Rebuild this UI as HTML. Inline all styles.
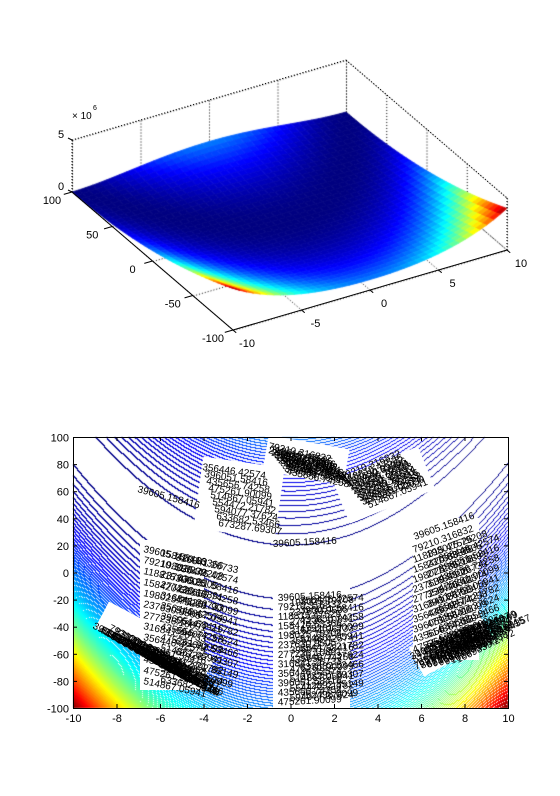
<!DOCTYPE html>
<html><head><meta charset="utf-8">
<style>
html,body{margin:0;padding:0;background:#fff;}
#page{position:relative;width:560px;height:796px;overflow:hidden;background:#fff;font-family:"Liberation Sans",sans-serif;}
canvas,svg{position:absolute;left:0;top:0;}
</style></head>
<body>
<div id="page">
<canvas id="surf" width="560" height="400"></canvas>
<canvas id="cont" width="560" height="796"></canvas>
<svg id="ov" width="560" height="796"></svg>
</div>
<script>
// ---- data ----
const xTicks = [-10, -5, 0, 5, 10];
const yTicks = [-100, -50, 0, 50, 100];
const zTicks = [0, 5];
const cxTicks = [-10, -8, -6, -4, -2, 0, 2, 4, 6, 8, 10];
const cyTicks = [-100, -80, -60, -40, -20, 0, 20, 40, 60, 80, 100];
const rosenA = [100];   // coefficient of (y - x^2)^2
const rosenB = [1];     // coefficient of (1 - x)^2
const levelStep = [39605.158416];
const levelCount = [101];
const zMax = [4000121];

function f(x,y){ return rosenA[0]*Math.pow(y-x*x,2)+rosenB[0]*Math.pow(1-x,2); }
function clamp(v){return Math.max(0,Math.min(1,v));}
function jet(t){
  const r=clamp(1.5-Math.abs(4*t-3)), g=clamp(1.5-Math.abs(4*t-2)), b=clamp(1.5-Math.abs(4*t-1));
  return [Math.round(r*255),Math.round(g*255),Math.round(b*255)];
}
const NS='http://www.w3.org/2000/svg';
const ov=document.getElementById('ov');
function el(tag,attrs,parent){const e=document.createElementNS(NS,tag);for(const k in attrs)e.setAttribute(k,attrs[k]);(parent||ov).appendChild(e);return e;}

// ---- 3D projection ----
function P(x,y,z){
  const u=(x+10)/20, v=(y+100)/200, w=z/5e6;
  return [233+u*274-v*161, 330-u*80-v*138-w*52];
}
function line3(a,b,dotted,name){
  const p=P(...a), q=P(...b);
  const l=el('line',{x1:p[0],y1:p[1],x2:q[0],y2:q[1],stroke:'#000','stroke-width':1,'stroke-dasharray':dotted?'1,2':'none'});
  
  
  return l;
}
const sc=document.getElementById('surf').getContext('2d');
function cline(a,b){const p=P(...a),q=P(...b);sc.beginPath();sc.moveTo(p[0]+.5,p[1]+.5);sc.lineTo(q[0]+.5,q[1]+.5);sc.stroke();}
sc.setLineDash([1,2]);sc.strokeStyle='#000';sc.lineWidth=1;
xTicks.forEach(x=>{cline([x,-100,0],[x,100,0]);cline([x,100,0],[x,100,5e6]);});
yTicks.forEach(y=>{cline([-10,y,0],[10,y,0]);cline([10,y,0],[10,y,5e6]);});
zTicks.forEach(z=>{cline([-10,100,z*1e6],[10,100,z*1e6]);cline([10,100,z*1e6],[10,-100,z*1e6]);});
cline([-10,100,0],[-10,100,5e6]);
sc.setLineDash([]);

const NX=40, NY=40, quads=[];
for(let i=0;i<NX;i++)for(let j=0;j<NY;j++){
  const x0=-10+20*i/NX,x1=-10+20*(i+1)/NX,y0=-100+200*j/NY,y1=-100+200*(j+1)/NY;
  const zc=(f(x0,y0)+f(x1,y0)+f(x0,y1)+f(x1,y1))/4;
  quads.push({pts:[P(x0,y0,f(x0,y0)),P(x1,y0,f(x1,y0)),P(x1,y1,f(x1,y1)),P(x0,y1,f(x0,y1))],z:zc,d:(x0+10)/20+(y0+100)/200});
}
quads.sort((a,b)=>b.d-a.d);
quads.forEach(q=>{
  const c=jet(q.z/zMax[0]);const col='rgb('+c+')';
  sc.fillStyle=col;sc.strokeStyle=col;sc.lineWidth=0.8;
  sc.beginPath();q.pts.forEach((p,k)=>k?sc.lineTo(p[0],p[1]):sc.moveTo(p[0],p[1]));sc.closePath();sc.fill();sc.stroke();
});

line3([-10,-100,0],[10,-100,0],false,'x-axis-line');
line3([-10,100,0],[-10,-100,0],false,'y-axis-line');
line3([-10,100,0],[-10,100,5e6],true,'z-axis-line');
line3([-10,100,5e6],[10,100,5e6],true,'box-top-back');
line3([10,100,5e6],[10,-100,5e6],true,'box-top-right');
line3([10,-100,0],[10,-100,5e6],true,'box-right-edge');
function txt(x,y,s,name,anchor,size,extra){
  const t=el('text',Object.assign({x:x,y:y,'font-size':size||11,'font-family':'Liberation Sans, sans-serif','text-anchor':anchor||'middle',fill:'#000'},extra||{}));
  t.textContent=s;
  
  
  return t;
}
xTicks.forEach(x=>{
  const p=P(x,-100,0),q=P(x,-104,0);
  const l=el('line',{x1:p[0],y1:p[1],x2:q[0],y2:q[1],stroke:'#000'});
  
  
  txt(p[0]+14,p[1]+17,String(x),'x-tick-label');
});
yTicks.forEach(y=>{
  const p=P(-10,y,0),q=P(-10.6,y,0);
  const l=el('line',{x1:p[0],y1:p[1],x2:q[0],y2:q[1],stroke:'#000'});
  
  
  txt(p[0]-20,p[1]+12,String(y),'y-tick-label');
});
zTicks.forEach(z=>{
  const p=P(-10,100,z*1e6);
  const l=el('line',{x1:p[0]-4,y1:p[1]-2,x2:p[0],y2:p[1],stroke:'#000'});
  
  
  txt(p[0]-11,p[1]-2,String(z),'z-tick-label');
});
txt(72,119,'× 10','z-exponent-label','start',10);
txt(93,110,'6','z-exponent-power','start',7);

// ---- contour plot ----
const L=73,T=437,W=435,H=271;
function cx(x){return L+(x+10)/20*W;}
function cy(y){return T+(100-y)/200*H;}
const cc=document.getElementById('cont').getContext('2d');
const img=cc.createImageData(W,H);
const idx=new Int32Array((W+1)*(H+1));
for(let j=0;j<=H;j++)for(let i=0;i<=W;i++){
  const x=-10+20*(i+0.5)/W, y=100-200*(j+0.5)/H;
  idx[j*(W+1)+i]=Math.floor(f(x,y)/levelStep[0]);
}
for(let j=0;j<H;j++)for(let i=0;i<W;i++){
  const a=idx[j*(W+1)+i],b=idx[j*(W+1)+i+1],c=idx[(j+1)*(W+1)+i];
  const k=(j*W+i)*4;
  if(a!==b||a!==c){
    const lv=Math.max(a,b,c);const col=jet(lv/levelCount[0]);
    img.data[k]=col[0];img.data[k+1]=col[1];img.data[k+2]=col[2];img.data[k+3]=255;
  } else {img.data[k]=255;img.data[k+1]=255;img.data[k+2]=255;img.data[k+3]=255;}
}
cc.putImageData(img,L,T);

function fmt(k){return String(+(k*levelStep[0]).toPrecision(11));}
const gaps=[[140,540,64,150,0],[273,552,77,156,0],[413,518,66,142,0],[265,442,82,36,10],[338,462,92,46,-22],[95,628,120,30,28],[412,628,78,32,-28],[198,462,82,72,8]];
gaps.forEach(g=>{
  const r=el('rect',{x:g[0],y:g[1],width:g[2],height:g[3],fill:'#fff',transform:'rotate('+g[4]+' '+(g[0]+g[2]/2)+' '+(g[1]+g[3]/2)+')'});
  
  
});
const groups=[
  [137,492,15,1,0,0,1],[273,547,-3,1,0,0,1],[415,540,-20,1,0,0,1],
  [202,470,8,9,2,7,9],[268,449,12,10,2,2.8,2],[268,453,12,8,3,2.5,6],[342,480,-22,8,3,3.6,2],[348,486,-22,8,3,3.2,6],
  [143,552,12,13,0,11,1],[160,556,12,13,0,10.5,4],[175,560,12,12,0,10.5,8],
  [278,601,-3,12,0,9.5,1],[290,606,-3,11,0,9.5,5],[300,604,-3,11,0,9.5,9],
  [414,553,-20,12,0,10,2],[428,558,-20,12,0,10,5],[440,562,-20,11,0,10,9],
  [92,628,27,12,6,3.5,10],[100,632,27,12,6,3.5,14],[108,630,27,10,6,3.5,20],
  [412,660,-26,10,6,-2,10],[420,666,-26,10,6,-2,14],[416,670,-26,8,6,-1,20]
];
groups.forEach(g=>{
  for(let n=0;n<g[3];n++){
    const x=g[0]+n*g[4], y=g[1]+n*g[5];
    txt(x,y,fmt(g[6]+n),'contour-level-label','start',10,{transform:'rotate('+g[2]+' '+x+' '+y+')'});
  }
});
const bx=el('rect',{x:L+.5,y:T+.5,width:W,height:H,fill:'none',stroke:'#000'});


cxTicks.forEach(v=>{
  const X=cx(v)+.5;
  const t1=el('line',{x1:X,y1:T+H,x2:X,y2:T+H-4,stroke:'#000'});
  
  
  const t2=el('line',{x1:X,y1:T,x2:X,y2:T+4,stroke:'#000'});
  
  
  txt(X,T+H+14,String(v),'contour-x-tick-label');
});
cyTicks.forEach(v=>{
  const Y=cy(v)+.5;
  const t1=el('line',{x1:L,y1:Y,x2:L+4,y2:Y,stroke:'#000'});
  
  
  const t2=el('line',{x1:L+W,y1:Y,x2:L+W-4,y2:Y,stroke:'#000'});
  
  
  txt(L-4,Y+4,String(v),'contour-y-tick-label','end');
});
</script>
</body></html>
